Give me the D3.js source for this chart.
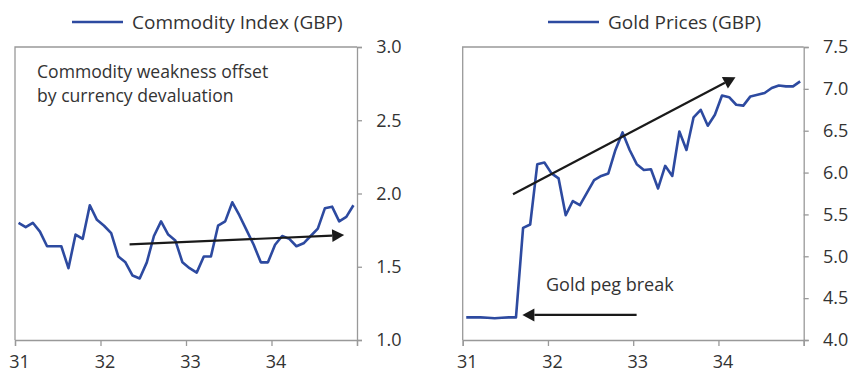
<!DOCTYPE html>
<html><head><meta charset="utf-8">
<script src="https://cdn.jsdelivr.net/npm/d3@7"></script>
<style>
body{margin:0;background:#fff;}
svg{display:block;font-family:"Open Sans",sans-serif;}
</style></head>
<body><svg id="c" width="852" height="375"></svg>
<script>
// ---- data ----
const years = [31, 32, 33, 34, 35];
const xTickLabels = ["31", "32", "33", "34", ""];
const commodityTicks = [1.0, 1.5, 2.0, 2.5, 3.0];
const goldTicks = [4.0, 4.5, 5.0, 5.5, 6.0, 6.5, 7.0, 7.5];
const commodity = [1.80,1.77,1.80,1.74,1.64,1.64,1.64,1.49,1.72,1.69,1.92,1.82,
                   1.78,1.73,1.57,1.53,1.44,1.42,1.53,1.71,1.81,1.72,1.68,1.53,
                   1.49,1.46,1.57,1.57,1.78,1.81,1.94,1.85,1.75,1.65,1.53,1.53,
                   1.65,1.71,1.69,1.64,1.66,1.71,1.76,1.90,1.91,1.81,1.84,1.92];
const gold = [4.27,4.27,4.27,4.265,4.26,4.265,4.27,4.27,5.34,5.38,6.10,6.12,
              5.99,5.93,5.49,5.66,5.61,5.76,5.91,5.96,5.99,6.27,6.48,6.27,
              6.10,6.03,6.04,5.81,6.08,5.96,6.49,6.27,6.66,6.75,6.56,6.69,
              6.92,6.90,6.81,6.80,6.91,6.93,6.95,7.01,7.04,7.03,7.03,7.09];
const monthX = d3.range(48).map(i => 31 + (i + 0.5) / 12);
const commodityArrow = [[32.34, 1.653], [34.85, 1.716]];
const goldTrendArrow = [[31.59, 5.74], [34.20, 7.14]];
const pegArrow = [[33.04, 4.30], [31.70, 4.30]];

const svg = d3.select("#c");
const BLUE = "#2d4aa0", FRAME = "#999", TEXT = "#333", ARROW = "#1a1a1a";

function arrow(g, x, y, pts) {
  const x0 = x(pts[0][0]), y0 = y(pts[0][1]), x1 = x(pts[1][0]), y1 = y(pts[1][1]);
  const a = Math.atan2(y1 - y0, x1 - x0), L = 12, W = 6.5;
  const bx = x1 - L * Math.cos(a), by = y1 - L * Math.sin(a);
  g.append("line").attr("x1", x0).attr("y1", y0).attr("x2", bx).attr("y2", by)
    .attr("stroke", ARROW).attr("stroke-width", 2.2);
  g.append("path").attr("fill", ARROW)
    .attr("d", `M${x1},${y1}L${bx - W * Math.sin(a)},${by + W * Math.cos(a)}L${bx + W * Math.sin(a)},${by - W * Math.cos(a)}Z`);
}

function panel(opt) {
  const g = svg.append("g");
  const x = d3.scaleLinear().domain([31, 35]).range([opt.left, opt.right]);
  const y = d3.scaleLinear().domain(opt.yDomain).range([340, 47]);
  // frame
  g.append("path").attr("fill", "none").attr("stroke", FRAME).attr("stroke-width", 1.3)
    .attr("d", `M${opt.left},340V47H${opt.right}`);
  // x axis
  const xa = g.append("g").attr("transform", "translate(0,340)")
    .call(d3.axisBottom(x).tickValues(years).tickSize(6).tickPadding(9)
      .tickFormat((d, i) => xTickLabels[i]));
  xa.select(".domain").attr("stroke", FRAME).attr("stroke-width", 1.3);
  xa.selectAll(".tick line").attr("stroke", FRAME).attr("stroke-width", 1.3);
  xa.selectAll("text").attr("fill", TEXT).attr("font-size", 18).attr("dx", 4)
    .attr("font-family", "Open Sans");
  // y axis
  const ya = g.append("g").attr("transform", `translate(${opt.right},0)`)
    .call(d3.axisRight(y).tickValues(opt.ticks).tickSize(5).tickPadding(6).tickFormat(d3.format(".1f")));
  ya.select(".domain").attr("stroke", FRAME).attr("stroke-width", 1.3);
  ya.selectAll(".tick line").attr("stroke", FRAME).attr("stroke-width", 1.3);
  ya.selectAll("text").attr("fill", TEXT).attr("font-size", 18).attr("text-anchor", "end")
    .attr("x", 44.5).attr("font-family", "Open Sans");
  // line
  const line = d3.line().x((d, i) => x(monthX[i])).y(d => y(d));
  g.append("path").datum(opt.values).attr("fill", "none").attr("stroke", BLUE)
    .attr("stroke-width", 2.6).attr("stroke-linejoin", "round").attr("d", line);
  // legend
  g.append("line").attr("x1", opt.legX).attr("x2", opt.legX + 51).attr("y1", 22).attr("y2", 22)
    .attr("stroke", BLUE).attr("stroke-width", 2.6);
  g.append("text").attr("x", opt.legX + 60).attr("y", 29).attr("fill", TEXT)
    .attr("font-size", 19).text(opt.legend);
  opt.arrows.forEach(a => arrow(g, x, y, a));
  return {g, x, y};
}

const p1 = panel({left: 15, right: 357, yDomain: [1.0, 3.0], ticks: commodityTicks,
  values: commodity, legX: 72, legend: "Commodity Index (GBP)", arrows: [commodityArrow]});
p1.g.append("text").attr("x", 37).attr("y", 78).attr("fill", TEXT).attr("font-size", 17.6)
  .text("Commodity weakness offset");
p1.g.append("text").attr("x", 37).attr("y", 102).attr("fill", TEXT).attr("font-size", 17.6)
  .text("by currency devaluation");

const p2 = panel({left: 462.7, right: 803.7, yDomain: [4.0, 7.5], ticks: goldTicks,
  values: gold, legX: 548, legend: "Gold Prices (GBP)", arrows: [goldTrendArrow, pegArrow]});
p2.g.append("text").attr("x", 546).attr("y", 291).attr("fill", TEXT).attr("font-size", 18)
  .text("Gold peg break");
</script></body></html>
